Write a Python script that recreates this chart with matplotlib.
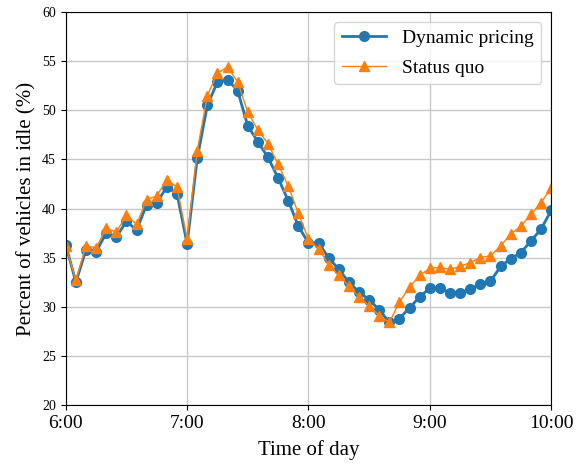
import numpy as np
import matplotlib
matplotlib.use('Agg')
import matplotlib.pyplot as plt

plt.rcParams['font.family'] = ['Liberation Serif', 'DejaVu Serif']

# Sample times (every 5 minutes, 6:00 to 10:00)
times = ['6:00', '6:05', '6:10', '6:15', '6:20', '6:25', '6:30', '6:35', '6:40', '6:45', '6:50', '6:55',
         '7:00', '7:05', '7:10', '7:15', '7:20', '7:25', '7:30', '7:35', '7:40', '7:45', '7:50', '7:55',
         '8:00', '8:05', '8:10', '8:15', '8:20', '8:25', '8:30', '8:35', '8:40', '8:45', '8:50', '8:55',
         '9:00', '9:05', '9:10', '9:15', '9:20', '9:25', '9:30', '9:35', '9:40', '9:45', '9:50', '9:55',
         '10:00']

dynamic = [36.3, 32.5, 35.8, 35.6, 37.5, 37.1, 38.7, 37.8, 40.4, 40.6, 42.2, 41.5,
           36.4, 45.1, 50.5, 52.9, 53.1, 52.0, 48.4, 46.8, 45.2, 43.1, 40.8, 38.2,
           36.5, 36.5, 35.0, 33.8, 32.5, 31.5, 30.7, 29.7, 28.4, 28.8, 29.9, 31.0,
           31.9, 31.9, 31.4, 31.4, 31.8, 32.3, 32.6, 34.1, 34.9, 35.5, 36.7, 37.9,
           39.8]

status_quo = [36.2, 32.7, 36.2, 36.0, 38.0, 37.6, 39.3, 38.4, 40.9, 41.3, 42.9, 42.2,
              36.9, 45.9, 51.5, 53.8, 54.4, 52.9, 49.8, 48.0, 46.6, 44.5, 42.3, 39.5,
              36.9, 35.9, 34.3, 33.2, 32.1, 31.0, 30.1, 29.1, 28.4, 30.5, 32.0, 33.2,
              33.9, 34.0, 33.8, 34.1, 34.5, 35.0, 35.2, 36.2, 37.4, 38.2, 39.4, 40.6,
              42.1]

hour_labels = ['6:00', '7:00', '8:00', '9:00', '10:00']


def to_minutes(t):
    h, m = t.split(':')
    return int(h) * 60 + int(m)


x = np.array([to_minutes(t) for t in times])
hour_ticks = [to_minutes(t) for t in hour_labels]

fig = plt.figure(figsize=(5.82, 4.66), dpi=100)
ax = fig.add_axes([0.113, 0.131, 0.834, 0.843])

ax.plot(x, dynamic, '-o', color='#1f77b4', lw=2, ms=7, label='Dynamic pricing')
ax.plot(x, status_quo, '-^', color='#ff7f0e', lw=1, ms=6.5, label='Status quo')

ax.set_xlim(hour_ticks[0], hour_ticks[-1])
ax.set_ylim(20, 60)
ax.set_xticks(hour_ticks)
ax.set_xticklabels(hour_labels, fontsize=14)
ax.set_yticks(np.arange(20, 61, 5))
ax.tick_params(axis='y', labelsize=10)
ax.grid(True, color='#c8c8c8', lw=1)
ax.set_axisbelow(True)

ax.set_xlabel('Time of day', fontsize=15, labelpad=6)
ax.set_ylabel('Percent of vehicles in idle (%)', fontsize=15)
ax.legend(loc='upper right', fontsize=14, borderaxespad=0.5,
          handlelength=2.3, labelspacing=0.6)

fig.savefig('out.png', dpi=100)
